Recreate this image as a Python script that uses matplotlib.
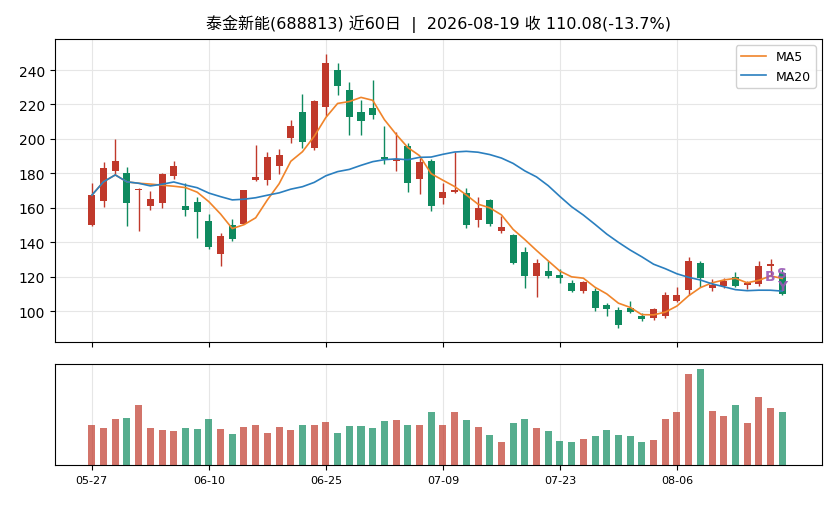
import numpy as np
import pandas as pd
import matplotlib
matplotlib.use("Agg")
import matplotlib.pyplot as plt

plt.rcParams['font.family'] = ['DejaVu Sans', 'Noto Sans CJK SC']
plt.rcParams['axes.unicode_minus'] = False

title = "泰金新能(688813) 近60日  |  2026-08-19 收 110.08(-13.7%)"
tick_pos = [0, 10, 20, 30, 40, 50]
tick_labels = ["05-27", "06-10", "06-25", "07-09", "07-23", "08-06"]

opens = [150.0, 164.1, 181.4, 180.0, 170.5, 161.2, 162.9, 178.5, 160.8, 163.3,
         152.3, 133.3, 150.0, 150.6, 176.0, 176.0, 184.2, 200.4, 215.8, 194.6,
         218.3, 240.0, 228.5, 215.8, 218.1, 189.3, 187.1, 195.6, 176.6, 187.1,
         165.8, 169.1, 168.5, 153.1, 164.5, 146.2, 144.3, 134.3, 120.4, 123.3,
         120.8, 116.0, 111.5, 111.9, 103.3, 100.4, 102.0, 96.9, 95.8, 96.9,
         105.8, 112.1, 128.1, 113.3, 114.8, 120.0, 115.0, 115.6, 126.0, 122.3]
highs = [174.3, 186.8, 200.1, 183.9, 171.4, 170.0, 180.4, 187.0, 174.3, 166.0,
         156.2, 145.2, 153.5, 170.5, 196.2, 192.3, 194.3, 211.2, 226.0, 222.7,
         249.1, 243.9, 232.9, 222.7, 234.3, 207.5, 204.1, 197.7, 189.1, 188.1,
         174.3, 192.3, 171.2, 166.0, 165.0, 155.0, 144.8, 137.2, 130.4, 128.9,
         124.2, 117.9, 117.2, 113.5, 104.8, 102.3, 106.0, 98.7, 101.6, 111.2,
         114.1, 131.4, 129.3, 118.5, 119.3, 122.5, 117.5, 128.9, 130.4, 124.2]
lows = [149.6, 160.2, 179.5, 149.6, 146.4, 158.5, 160.0, 176.6, 155.4, 142.4,
        135.8, 126.2, 140.4, 150.3, 175.6, 173.1, 179.5, 197.7, 194.5, 193.5,
        213.1, 225.6, 202.5, 202.5, 211.8, 185.2, 181.4, 168.9, 167.9, 157.9,
        162.0, 168.3, 148.1, 148.7, 149.3, 145.2, 127.1, 113.1, 108.3, 118.9,
        116.0, 110.8, 110.3, 100.2, 97.1, 90.4, 99.1, 94.2, 94.6, 96.2,
        105.0, 109.6, 114.1, 111.5, 113.5, 114.1, 112.7, 114.6, 120.8, 109.2]
closes = [167.3, 182.9, 187.0, 162.9, 171.0, 165.0, 179.5, 184.1, 158.9, 157.7,
          137.3, 143.7, 141.9, 170.2, 177.7, 189.3, 190.4, 207.3, 198.1, 222.2,
          244.3, 231.0, 212.8, 210.2, 213.7, 188.1, 188.5, 174.4, 186.6, 161.2,
          169.2, 170.2, 150.0, 159.8, 150.6, 148.7, 128.1, 120.4, 128.1, 120.4,
          118.9, 111.5, 116.6, 101.6, 101.2, 91.9, 99.4, 95.4, 101.0, 109.1,
          109.6, 129.3, 118.9, 115.0, 117.3, 114.6, 116.2, 126.2, 127.6, 110.08]
volumes = [40, 37, 46, 47, 60, 37, 35, 34, 37, 36,
           46, 36, 31, 38, 40, 32, 38, 35, 40, 40,
           43, 32, 39, 39, 37, 44, 45, 40, 40, 53,
           40, 53, 45, 38, 30, 23, 42, 46, 37, 34,
           24, 23, 26, 29, 35, 30, 29, 23, 25, 46,
           53, 91, 96, 54, 49, 60, 42, 68, 57, 53]

marks = [("B", 58, 120.2), ("S", 59, 122.0), ("Y", 59, 114.3)]

RED = "#c0392b"
GREEN = "#0f8a5f"

o = np.array(opens); h = np.array(highs); l = np.array(lows); c = np.array(closes)
v = np.array(volumes)
x = np.arange(len(c))
up = c >= o
cols = np.where(up, RED, GREEN)

ma5 = pd.Series(c).rolling(5, min_periods=1).mean()
ma20 = pd.Series(c).rolling(20, min_periods=1).mean()

fig = plt.figure(figsize=(8.36, 5.06), dpi=100)
ax = fig.add_axes([0.0658, 0.3221, 0.9175, 0.5988])
axv = fig.add_axes([0.0658, 0.0791, 0.9175, 0.1996], sharex=ax)

ax.vlines(x, l, h, colors=cols, linewidth=1.0, zorder=2)
ax.bar(x, np.maximum(np.abs(c - o), 0.4), bottom=np.minimum(o, c), width=0.6,
       color=cols, zorder=3)
ax.plot(x, ma5, color="#f0842a", linewidth=1.2, label="MA5", zorder=4)
ax.plot(x, ma20, color="#2a7fbf", linewidth=1.2, label="MA20", zorder=4)

for txt, xi, yv in marks:
    ax.text(xi, yv, txt, color="#9b59b6", fontsize=10, fontweight="bold",
            ha="center", va="center", zorder=5, alpha=0.9)

ax.set_xlim(-3.15, 62.4)
ax.set_ylim(82, 258)
ax.set_yticks([100, 120, 140, 160, 180, 200, 220, 240])
ax.tick_params(axis='y', labelsize=10)
ax.tick_params(axis='x', labelbottom=False)
ax.grid(True, color="#e6e6e6", linewidth=0.8)
ax.set_axisbelow(True)
ax.legend(loc="upper right", fontsize=9, framealpha=0.9)
ax.set_title(title, fontsize=11.5, pad=8)

axv.bar(x, v, width=0.6, color=cols, alpha=0.7)
axv.set_ylim(0, 101)
axv.set_yticks([])
axv.set_xticks(tick_pos)
axv.set_xticklabels(tick_labels)
axv.tick_params(axis='x', labelsize=8)
axv.grid(True, axis='x', color="#e6e6e6", linewidth=0.8)
axv.set_axisbelow(True)

fig.savefig("out.png", dpi=100)
